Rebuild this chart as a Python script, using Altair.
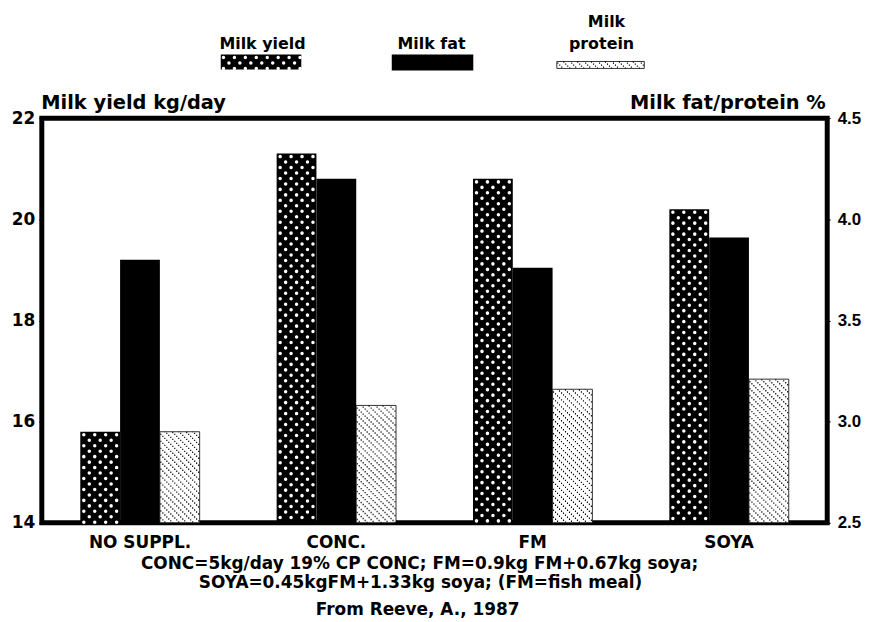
import altair as alt
import pandas as pd

# ---------------- data ----------------
categories = ["NO SUPPL.", "CONC.", "FM", "SOYA"]
series = ["Milk yield", "Milk fat", "Milk protein"]
milk_yield = [15.8, 21.3, 20.8, 20.2]        # kg/day (left axis)
milk_fat = [3.80, 4.20, 3.76, 3.91]           # % (right axis)
milk_protein = [2.95, 3.08, 3.16, 3.21]       # % (right axis)
yield_ticks = [14, 16, 18, 20, 22]
pct_ticks = [2.5, 3.0, 3.5, 4.0, 4.5]
left_title = "Milk yield kg/day"
right_title = "Milk fat/protein %"
footnote = [
    "CONC=5kg/day 19% CP CONC; FM=0.9kg FM+0.67kg soya;",
    "SOYA=0.45kgFM+1.33kg soya; (FM=fish meal)",
]
source_note = "From Reeve, A., 1987"
legend_protein_lines = ["Milk", "protein"]

FONT = "DejaVu Sans"
FONT2 = "Liberation Sans"

df_y = pd.DataFrame({"category": categories, "series": series[0], "value": milk_yield})
df_f = pd.DataFrame({"category": categories, "series": series[1], "value": milk_fat})
df_p = pd.DataFrame({"category": categories, "series": series[2], "value": milk_protein})
one = pd.DataFrame({"k": [0]})

xs = alt.Scale(domain=categories, paddingInner=0.392, paddingOuter=0.196)
xos = alt.Scale(domain=series, paddingInner=0, paddingOuter=0)
ys_l = alt.Scale(domain=[14, 22], zero=False, nice=False)
ys_r = alt.Scale(domain=[2.5, 4.5], zero=False, nice=False)

X = alt.X("category:N", scale=xs, sort=None,
          axis=alt.Axis(title=None, labelAngle=0, ticks=False, domain=False,
                        labelPadding=12, labelFontSize=17))
XO = alt.XOffset("series:N", scale=xos, sort=None)
YL = alt.Y("value:Q", scale=ys_l,
           axis=alt.Axis(values=yield_ticks, orient="left", title=left_title,
                         titleAngle=0, titleAlign="left", titleBaseline="alphabetic",
                         titleX=-1, titleY=-10, titleFontSize=19.5,
                         tickSize=3, labelPadding=4, labelFontSize=17))
YR = alt.Y("value:Q", scale=ys_r,
           axis=alt.Axis(values=pct_ticks, format=".1f", orient="right", title=right_title,
                         titleAngle=0, titleAlign="right", titleBaseline="alphabetic",
                         titleX=-2, titleY=-10, titleFontSize=19.5,
                         tickSize=3, labelPadding=7, labelFontSize=17, labelFont=FONT2))

# ---- milk yield: black bars with white dot texture ----
yield_layers = [alt.Chart(df_y).mark_bar(color="black").encode(
    x=X, xOffset=XO, y=YL, y2=alt.datum(14))]
for k in range(7):
    yield_layers.append(
        alt.Chart(df_y).mark_rule(
            color="white", strokeWidth=3.5, strokeCap="round",
            strokeDash=[0.1, 10.9], strokeDashOffset=8 if k % 2 == 0 else 2.5,
            xOffset=-56.5 + 5.5 * k,
        ).encode(x=X, y=YL, y2=alt.datum(14))
    )
left = alt.layer(*yield_layers)

# ---- milk fat (solid black) and protein (dotted hatch) ----
right_layers = [
    alt.Chart(df_f).mark_bar(color="black").encode(x=X, xOffset=XO, y=YR, y2=alt.datum(2.5)),
    alt.Chart(df_p).mark_bar(fill="white", stroke="black", strokeWidth=0.8).encode(
        x=X, xOffset=XO, y=YR, y2=alt.datum(2.5)),
]
for i in range(20):
    right_layers.append(
        alt.Chart(df_p).mark_rule(
            color="black", strokeWidth=1.1, strokeDash=[1.4, 5.6],
            strokeDashOffset=(7 - (2 + 2 * i)) % 7, xOffset=21 + 2 * i,
        ).encode(x=X, y=YR, y2=alt.datum(2.5))
    )
right = alt.layer(*right_layers)

# ---------------- legend (guide drawn in pixels) ----------------
def txt(s, x, y, size=17):
    return alt.Chart(one).mark_text(font=FONT, fontSize=size, fontWeight="bold",
                                    align="center", baseline="alphabetic", color="black"
                                    ).encode(x=alt.value(x), y=alt.value(y), text=alt.value(s))

legend = [
    txt(series[0], 222, -70, 16),
    txt(series[1], 392, -70, 16),
    txt(legend_protein_lines[0], 568, -92, 16),
    txt(legend_protein_lines[1], 563, -70, 16),
    alt.Chart(one).mark_rect(color="black").encode(
        x=alt.value(180), x2=alt.value(261), y=alt.value(-64), y2=alt.value(-49)),
    alt.Chart(one).mark_rect(color="black").encode(
        x=alt.value(352), x2=alt.value(434), y=alt.value(-64), y2=alt.value(-48)),
    alt.Chart(one).mark_rect(fill="white", stroke="black", strokeWidth=0.8).encode(
        x=alt.value(518), x2=alt.value(606), y=alt.value(-57), y2=alt.value(-50)),
]
for k in range(15):
    legend.append(alt.Chart(one).mark_rule(
        color="white", strokeWidth=3.5, strokeCap="round",
        strokeDash=[0.1, 10.9], strokeDashOffset=8 if k % 2 == 0 else 2.5,
    ).encode(x=alt.value(182.75 + 5.5 * k), y=alt.value(-64), y2=alt.value(-49)))
for i in range(44):
    legend.append(alt.Chart(one).mark_rule(
        color="black", strokeWidth=1.1, strokeDash=[1.4, 5.6],
        strokeDashOffset=(7 - (1 + 2 * i)) % 7,
    ).encode(x=alt.value(519 + 2 * i), y=alt.value(-57), y2=alt.value(-50)))

notes = [
    txt(footnote[0], 380, 453),
    txt(footnote[1], 381, 473),
    txt(source_note, 378, 500),
]

chart = alt.layer(left, right, *legend, *notes).resolve_scale(y="independent").properties(
    width=790, height=407,
    autosize=alt.AutoSizeParams(type="none"),
    padding={"left": 34, "top": 109, "right": 38, "bottom": 96},
).configure_view(
    stroke="black", strokeWidth=5
).configure_axis(
    labelFont=FONT, titleFont=FONT, labelFontWeight="bold", titleFontWeight="bold",
    labelColor="black", titleColor="black", tickColor="black", grid=False, domain=False,
)

chart.save("out.html", embed_options={"renderer": "svg", "actions": False})
